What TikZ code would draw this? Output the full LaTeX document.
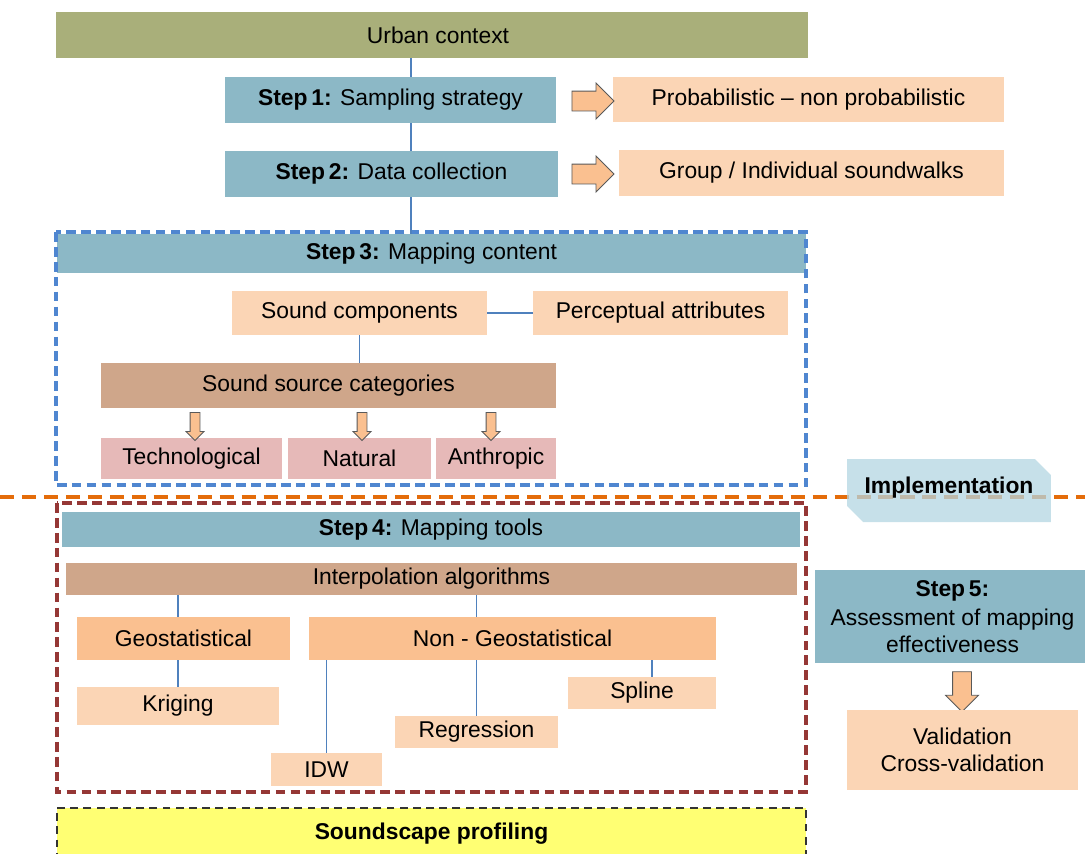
\documentclass[tikz,border=0pt]{standalone}
\usepackage{fontspec}
\setmainfont{Liberation Sans}
\usetikzlibrary{shapes.arrows,shapes.misc,positioning}

\definecolor{urbangreen}{HTML}{A9AF7A}
\definecolor{stepblue}{HTML}{8CB8C6}
\definecolor{peach}{HTML}{FBD5B5}
\definecolor{darkpeach}{HTML}{FAC090}
\definecolor{tan}{HTML}{CFA68A}
\definecolor{rose}{HTML}{E6B9B8}
\definecolor{linkblue}{HTML}{4F81BD}
\definecolor{frameblue}{HTML}{4F86D0}
\definecolor{framered}{HTML}{953735}
\definecolor{lineorange}{HTML}{E46C0A}
\definecolor{implblue}{HTML}{B3D5E1}
\definecolor{profyellow}{HTML}{FFFF73}

\tikzset{
  box/.style={inner sep=0pt, align=center, font=\fontsize{13}{15.5}\selectfont},
  stepbox/.style={box, fill=stepblue},
  lightbox/.style={box, fill=peach},
  link/.style={draw=linkblue, line width=0.7pt},
  rarrow/.style={single arrow, fill=darkpeach, draw=gray!70!black, line width=0.5pt,
    inner xsep=0pt, inner ysep=0.19cm, minimum height=0.84cm, single arrow head extend=0.16cm},
  darrow/.style={single arrow, shape border rotate=270, fill=darkpeach, draw=gray!70!black, line width=0.5pt,
    inner ysep=0pt, inner xsep=0.09cm, minimum height=0.56cm, single arrow head extend=0.08cm},
  frame/.style={line width=1.8pt, dash pattern=on 5.5pt off 3pt}
}

\begin{document}
\begin{tikzpicture}[x=0.02cm, y=-0.02cm]
\useasboundingbox (0,0) rectangle (1085,853);

\coordinate (spine) at (411,0);

\node (urban) at (432,35) [box, fill=urbangreen, minimum width=15.04cm, minimum height=0.92cm] {\hspace{0.24cm}Urban context};
\node (step1) at (390.5,100) [stepbox, minimum width=6.62cm, minimum height=0.92cm] {\textbf{Step\,1:} Sampling strategy};
\node (prob) at (808.5,99.5) [lightbox, minimum width=7.82cm, minimum height=0.9cm] {Probabilistic -- non probabilistic};
\node (arr1) at (588,101) [rarrow] {};
\node (step2) at (391.5,174) [stepbox, minimum width=6.66cm, minimum height=0.92cm] {\textbf{Step\,2:} Data collection};
\node (group) at (811.5,173) [lightbox, minimum width=7.7cm, minimum height=0.92cm] {Group / Individual soundwalks};
\node (arr2) at (588,174) [rarrow] {};

\node (step3) at (431.5,253.5) [stepbox, minimum width=14.98cm, minimum height=0.78cm] {\textbf{Step\,3:} Mapping content};
\node (comp) at (359.5,313) [lightbox, minimum width=5.1cm, minimum height=0.88cm] {Sound components};
\node (percep) at (660.5,313) [lightbox, minimum width=5.1cm, minimum height=0.88cm] {Perceptual attributes};
\node (ssc) at (328.5,385.5) [box, fill=tan, minimum width=9.1cm, minimum height=0.9cm] {Sound source categories};
\node (techno) at (191.5,458.5) [box, fill=rose, minimum width=3.62cm, minimum height=0.82cm] {Technological};
\node (natural) at (359.5,458.5) [box, fill=rose, minimum width=2.86cm, minimum height=0.82cm] {Natural};
\node (anthro) at (496,458.5) [box, fill=rose, minimum width=2.4cm, minimum height=0.82cm] {Anthropic};
\node (arr3) at (195,424) [darrow] {};
\node (arr4) at (362,424) [darrow] {};
\node (arr5) at (491,424) [darrow] {};
\draw[frameblue, frame] (56,232) rectangle (806,485);

\draw[lineorange, line width=2.8pt, dash pattern=on 8pt off 4.5pt] (0,497) -- (1085,497);
\node (impl) at (949,490.5) [chamfered rectangle, chamfered rectangle corners={north east,south west},
  chamfered rectangle xsep=0.2cm, fill=implblue, fill opacity=0.75, text opacity=1, inner sep=0pt,
  minimum width=4.08cm, minimum height=1.26cm, font=\fontsize{13}{15.5}\selectfont\bfseries] {\raisebox{0.2cm}{Implementation}};

\node (step4) at (431,529.5) [stepbox, minimum width=14.76cm, minimum height=0.7cm] {\textbf{Step\,4:} Mapping tools};
\node (interp) at (431.5,579) [box, fill=tan, minimum width=14.62cm, minimum height=0.64cm] {Interpolation algorithms};
\node (geo) at (183.5,638.5) [box, fill=darkpeach, minimum width=4.26cm, minimum height=0.86cm] {Geostatistical};
\node (nongeo) at (512.5,638.5) [box, fill=darkpeach, minimum width=8.14cm, minimum height=0.86cm] {Non - Geostatistical};
\node (krig) at (178,706) [lightbox, minimum width=4.04cm, minimum height=0.76cm] {Kriging};
\node (spline) at (642,693) [lightbox, minimum width=2.96cm, minimum height=0.64cm] {Spline};
\node (regr) at (476.5,732) [lightbox, minimum width=3.26cm, minimum height=0.64cm] {Regression};
\node (idw) at (326.5,769.5) [lightbox, minimum width=2.22cm, minimum height=0.66cm] {IDW};
\draw[framered, frame] (57,503) rectangle (806,792);

\node (prof) at (431.5,834) [box, fill=profyellow, draw=black!80, line width=0.9pt, dash pattern=on 4.5pt off 3pt,
  minimum width=14.98cm, minimum height=1.04cm, font=\fontsize{13}{15.5}\selectfont\bfseries] {\raisebox{0.1cm}{Soundscape profiling}};

\node (step5) at (952.5,616.5) [stepbox, minimum width=5.5cm, minimum height=1.86cm] {\textbf{Step\,5:}\\[1pt]Assessment of mapping\\effectiveness};
\node (arr6) at (962,687) [single arrow, shape border rotate=270, fill=darkpeach, draw=gray!70!black, line width=0.5pt,
  inner ysep=0pt, inner xsep=0.18cm, minimum height=0.8cm, single arrow head extend=0.14cm] {};
\node (valid) at (962.5,750) [lightbox, minimum width=4.62cm, minimum height=1.6cm] {Validation\\Cross-validation};

\draw[link] (urban.south -| spine) -- (step1.north -| spine);
\draw[link] (step1.south -| spine) -- (step2.north -| spine);
\draw[link] (step2.south -| spine) -- (step3.north -| spine);
\draw[link] (comp.east) -- (percep.west);
\draw[link] (comp.south) -- (comp.south |- ssc.north);
\draw[link] (interp.south -| krig) -- (geo.north -| krig);
\draw[link] (interp.south -| regr) -- (nongeo.north -| regr);
\draw[link] (geo.south -| krig) -- (krig.north);
\draw[link] (nongeo.south -| idw) -- (idw.north);
\draw[link] (nongeo.south -| regr) -- (regr.north);
\draw[link] ([xshift=0.2cm]spline.north |- nongeo.south) -- ([xshift=0.2cm]spline.north);
\end{tikzpicture}
\end{document}
